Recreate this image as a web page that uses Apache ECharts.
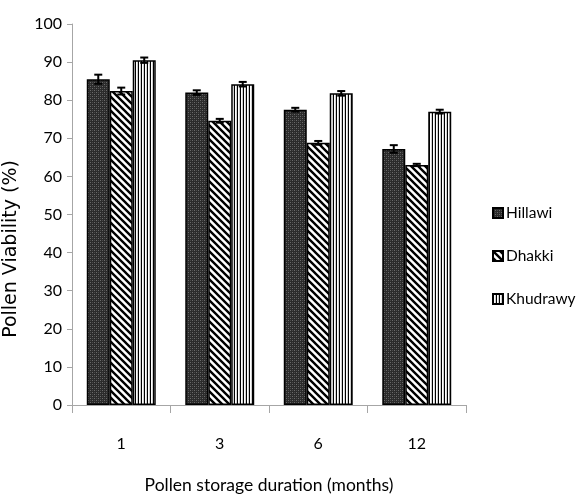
<!DOCTYPE html>
<html>
<head>
<meta charset="utf-8">
<script src="https://cdn.jsdelivr.net/npm/echarts@6/dist/echarts.min.js"></script>
<style>
  html, body { margin: 0; padding: 0; background: #fff; }
  #chart { width: 583px; height: 496px; }
</style>
</head>
<body>
<div id="chart"></div>
<script>
// Storage durations (months) and pollen viability (%) per cultivar
const months = ['1', '3', '6', '12'];
const hillawi = [85.5, 82.0, 77.5, 67.2];
const dhakki = [82.4, 74.6, 68.8, 63.0];
const khudrawy = [90.5, 84.2, 81.8, 77.0];
// Standard errors
const hillawiErr = [1.2, 0.6, 0.5, 1.0];
const dhakkiErr = [0.9, 0.5, 0.5, 0.3];
const khudrawyErr = [0.7, 0.6, 0.6, 0.5];
const yTicks = { min: 0, max: 100, interval: 10 };

// Fill patterns for the bars
function makePattern(w, h, draw) {
  const c = document.createElement('canvas');
  c.width = w; c.height = h;
  const ctx = c.getContext('2d');
  draw(ctx, w, h);
  return { image: c, repeat: 'repeat' };
}
const dottedDark = makePattern(4, 4, (ctx) => {
  ctx.fillStyle = '#2b2b2b';
  ctx.fillRect(0, 0, 4, 4);
  ctx.fillStyle = '#6b6b6b';
  ctx.fillRect(0, 0, 1, 1);
  ctx.fillRect(2, 2, 1, 1);
  ctx.fillStyle = '#4a4a4a';
  ctx.fillRect(2, 0, 1, 1);
  ctx.fillRect(0, 2, 1, 1);
});
const diagonal = makePattern(7, 7, (ctx, w, h) => {
  ctx.fillStyle = '#ffffff';
  ctx.fillRect(0, 0, w, h);
  ctx.strokeStyle = '#000000';
  ctx.lineWidth = 2.4;
  ctx.beginPath();
  ctx.moveTo(-w, -h); ctx.lineTo(2 * w, 2 * h);
  ctx.moveTo(0, -h); ctx.lineTo(2 * w, h);
  ctx.moveTo(-w, 0); ctx.lineTo(w, 2 * h);
  ctx.stroke();
});
const vertical = makePattern(3, 1, (ctx) => {
  ctx.fillStyle = '#ffffff';
  ctx.fillRect(0, 0, 3, 1);
  ctx.fillStyle = '#000000';
  ctx.fillRect(0, 0, 1, 1);
  ctx.fillStyle = '#d0d0d0';
  ctx.fillRect(2, 0, 1, 1);
});

const seriesDefs = [
  { name: 'Hillawi', values: hillawi, errs: hillawiErr, fill: dottedDark },
  { name: 'Dhakki', values: dhakki, errs: dhakkiErr, fill: diagonal },
  { name: 'Khudrawy', values: khudrawy, errs: khudrawyErr, fill: vertical }
];
const GAP = 0.30;
const labelFont = "Lato, 'Open Sans', sans-serif";

const barSeries = seriesDefs.map(s => ({
  name: s.name,
  type: 'bar',
  data: s.values,
  barGap: '0%',
  barCategoryGap: (GAP * 100) + '%',
  itemStyle: { color: s.fill, borderColor: '#000', borderWidth: 1.5 }
}));

const errorSeries = seriesDefs.map((s, si) => ({
  name: s.name + ' error',
  type: 'custom',
  z: 5,
  silent: true,
  data: s.values.map((v, i) => [i, v, s.errs[i]]),
  renderItem: function (params, api) {
    const idx = api.value(0);
    const val = api.value(1);
    const err = api.value(2);
    const bandW = api.size([1, 0])[0];
    const barW = bandW * (1 - GAP) / seriesDefs.length;
    const offset = (si - (seriesDefs.length - 1) / 2) * barW;
    const hi = api.coord([idx, val + err]);
    const lo = api.coord([idx, val - err]);
    const x = hi[0] + offset;
    const cap = 4;
    const st = { stroke: '#000', lineWidth: 2 };
    return {
      type: 'group',
      children: [
        { type: 'line', shape: { x1: x, y1: hi[1], x2: x, y2: lo[1] }, style: st },
        { type: 'line', shape: { x1: x - cap, y1: hi[1], x2: x + cap, y2: hi[1] }, style: st },
        { type: 'line', shape: { x1: x - cap, y1: lo[1], x2: x + cap, y2: lo[1] }, style: st }
      ]
    };
  }
}));

const chart = echarts.init(document.getElementById('chart'), null, { renderer: 'canvas' });
chart.setOption({
  animation: false,
  backgroundColor: '#ffffff',
  grid: { left: 72, right: 117, top: 24, bottom: 91, outerBoundsMode: 'none', containLabel: false },
  graphic: [{
    type: 'text',
    x: 11,
    y: 249,
    rotation: Math.PI / 2,
    style: {
      text: 'Pollen Viability (%)',
      font: "19px 'DejaVu Sans', sans-serif",
      fill: '#000',
      align: 'center',
      verticalAlign: 'middle'
    }
  }],
  legend: {
    data: seriesDefs.map(s => s.name),
    orient: 'vertical',
    left: 492,
    top: 205,
    padding: 0,
    itemGap: 27,
    itemWidth: 10,
    itemHeight: 10,
    icon: 'rect',
    textStyle: { fontFamily: labelFont, fontSize: 15.5, lineHeight: 14, color: '#000', padding: [0, 0, 0, -2] }
  },
  xAxis: {
    type: 'category',
    data: months,
    name: 'Pollen storage duration (months)',
    nameLocation: 'middle',
    nameGap: 71,
    nameTextStyle: { fontFamily: labelFont, fontSize: 17.5, color: '#000' },
    axisLine: { lineStyle: { color: '#a6a6a6', width: 1 } },
    axisTick: { show: true, alignWithLabel: false, length: 8, lineStyle: { color: '#a6a6a6' } },
    axisLabel: { fontFamily: labelFont, fontSize: 16, color: '#000', margin: 31 }
  },
  yAxis: {
    type: 'value',
    min: yTicks.min,
    max: yTicks.max,
    interval: yTicks.interval,
    axisLine: { show: true, lineStyle: { color: '#a6a6a6', width: 1 } },
    axisTick: { show: true, length: 5, lineStyle: { color: '#a6a6a6' } },
    splitLine: { show: false },
    axisLabel: { fontFamily: labelFont, fontSize: 16, color: '#000', margin: 10 }
  },
  series: barSeries.concat(errorSeries)
});
</script>
</body>
</html>
